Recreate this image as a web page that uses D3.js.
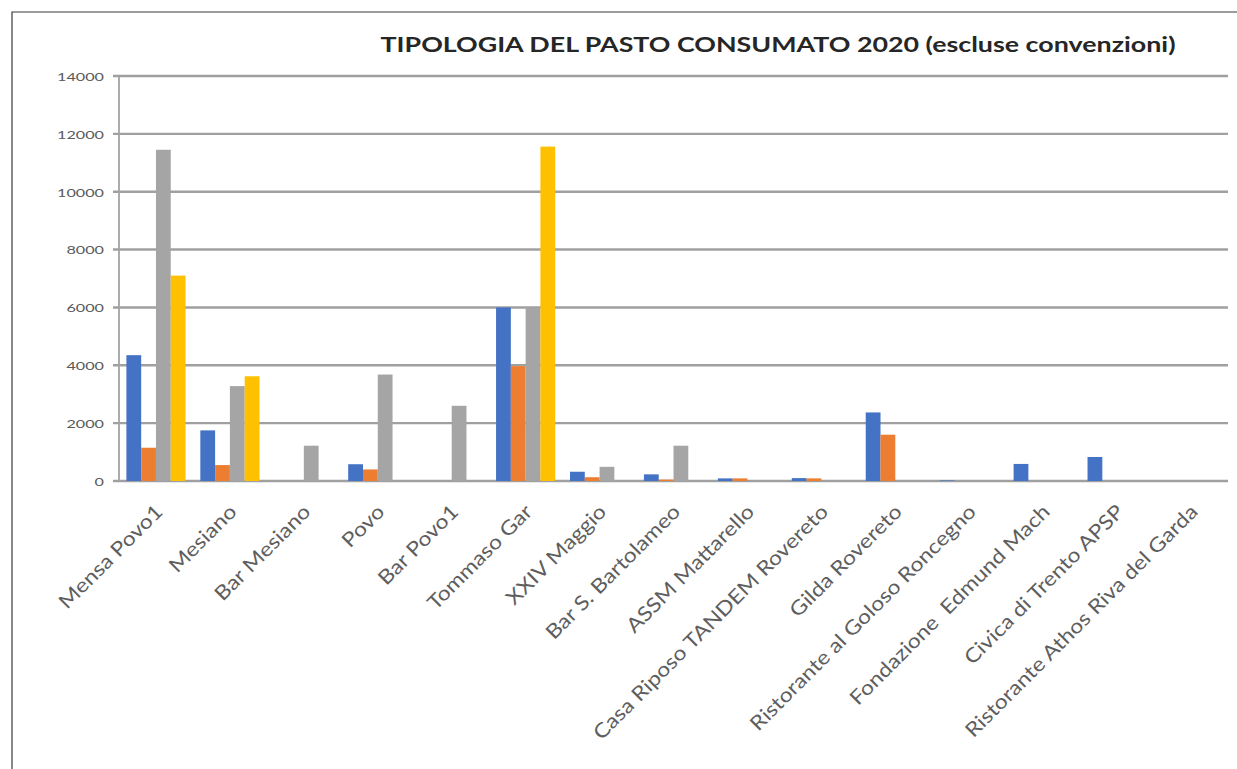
<!DOCTYPE html>
<html>
<head>
<meta charset="utf-8">
<script src="https://cdn.jsdelivr.net/npm/d3@7"></script>
<style>
  html, body { margin: 0; padding: 0; background: #fff; }
  svg { display: block; }
  text { font-family: Lato, "Open Sans", sans-serif; }
</style>
</head>
<body>
<div id="chart"></div>
<script>
// ---- Data ----
const title = "TIPOLOGIA DEL PASTO CONSUMATO 2020 (escluse convenzioni)";
const categories = [
  "Mensa Povo1", "Mesiano", "Bar Mesiano", "Povo", "Bar Povo1", "Tommaso Gar",
  "XXIV Maggio", "Bar S. Bartolameo", "ASSM Mattarello", "Casa Riposo TANDEM Rovereto",
  "Gilda Rovereto", "Ristorante al Goloso Roncegno", "Fondazione  Edmund Mach",
  "Civica di Trento APSP", "Ristorante Athos Riva del Garda"
];
const seriesBlue   = [4350, 1750, 0, 580, 0, 6000, 320, 230, 90, 100, 2370, 20, 590, 830, 0];
const seriesOrange = [1150, 550, 0, 400, 0, 3970, 130, 50, 90, 90, 1600, 0, 0, 0, 0];
const seriesGray   = [11450, 3280, 1220, 3680, 2600, 6000, 490, 1220, 0, 0, 0, 0, 0, 0, 0];
const seriesYellow = [7100, 3620, 0, 0, 0, 11560, 0, 0, 0, 0, 0, 0, 0, 0, 0];
const seriesNames  = ["s1", "s2", "s3", "s4"];
const seriesColors = ["#4472C4", "#ED7D31", "#A5A5A5", "#FFC000"];
const yTicks = [0, 2000, 4000, 6000, 8000, 10000, 12000, 14000];

const allSeries = [seriesBlue, seriesOrange, seriesGray, seriesYellow];

// ---- Layout ----
const W = 1237, H = 769;
const plot = { left: 119, right: 1228, top: 76, bottom: 481 };

const svg = d3.select("#chart").append("svg")
  .attr("width", W).attr("height", H);

svg.append("rect").attr("width", W).attr("height", H).attr("fill", "#fff");

// outer frame
svg.append("path")
  .attr("d", `M12,${H + 2} L12,12 L${W + 2},12`)
  .attr("fill", "none").attr("stroke", "#3a3a3a").attr("stroke-width", 1.2);

const x0 = d3.scaleBand().domain(categories)
  .range([plot.left, plot.right]).paddingInner(0.2).paddingOuter(0.1);
const x1 = d3.scaleBand().domain(seriesNames).range([0, x0.bandwidth()]).padding(0);
const y = d3.scaleLinear().domain([0, 14000]).range([plot.bottom, plot.top]);

// gridlines
const grid = svg.append("g");
grid.selectAll("line").data(yTicks).join("line")
  .attr("x1", plot.left - 6).attr("x2", plot.right)
  .attr("y1", d => y(d)).attr("y2", d => y(d))
  .attr("stroke", "#a0a0a0").attr("stroke-width", 2.4);

// y axis line
svg.append("line")
  .attr("x1", plot.left).attr("x2", plot.left)
  .attr("y1", plot.top).attr("y2", plot.bottom)
  .attr("stroke", "#a3a3a3").attr("stroke-width", 1.8);

// bars
const groups = svg.append("g").selectAll("g").data(categories).join("g")
  .attr("transform", d => `translate(${x0(d)},0)`);
groups.selectAll("rect")
  .data((d, i) => allSeries.map((s, k) => ({ key: seriesNames[k], value: s[i], color: seriesColors[k] })))
  .join("rect")
  .attr("x", d => x1(d.key))
  .attr("width", x1.bandwidth())
  .attr("y", d => y(d.value))
  .attr("height", d => y(0) - y(d.value))
  .attr("fill", d => d.color);

// y axis labels
const yAxis = d3.axisLeft(y).tickValues(yTicks).tickSize(0).tickPadding(0).tickFormat(d3.format("d"));
const yg = svg.append("g").attr("transform", `translate(104,0)`).call(yAxis);
yg.select(".domain").remove();
yg.selectAll("text")
  .attr("font-family", "Lato, 'Open Sans', sans-serif")
  .attr("font-size", 12)
  .attr("fill", "#595959")
  .attr("dy", "0.36em")
  .each(function () {
    const len = this.getComputedTextLength();
    d3.select(this).attr("textLength", len * 1.35).attr("lengthAdjust", "spacingAndGlyphs");
  });

// x labels
const xAxis = d3.axisBottom(x0).tickSize(0).tickPadding(0);
const xg = svg.append("g").attr("transform", `translate(0,${plot.bottom})`).call(xAxis);
xg.select(".domain").remove();
xg.selectAll("text")
  .attr("font-family", "Lato, 'Open Sans', sans-serif")
  .attr("font-size", 20)
  .attr("fill", "#5e5e5e")
  .attr("text-anchor", "end")
  .attr("dy", 0)
  .attr("y", 0)
  .style("white-space", "pre")
  .attr("transform", `translate(8,32) rotate(-45)`)
  .each(function () {
    const len = this.getComputedTextLength();
    d3.select(this).attr("textLength", len * 1.15).attr("lengthAdjust", "spacingAndGlyphs");
  });

// title
const t = svg.append("text")
  .attr("x", 778).attr("y", 52)
  .attr("text-anchor", "middle")
  .attr("font-size", 21).attr("font-weight", 700)
  .attr("fill", "#262626")
  .text(title);
t.attr("textLength", 795).attr("lengthAdjust", "spacingAndGlyphs");
</script>
</body>
</html>
